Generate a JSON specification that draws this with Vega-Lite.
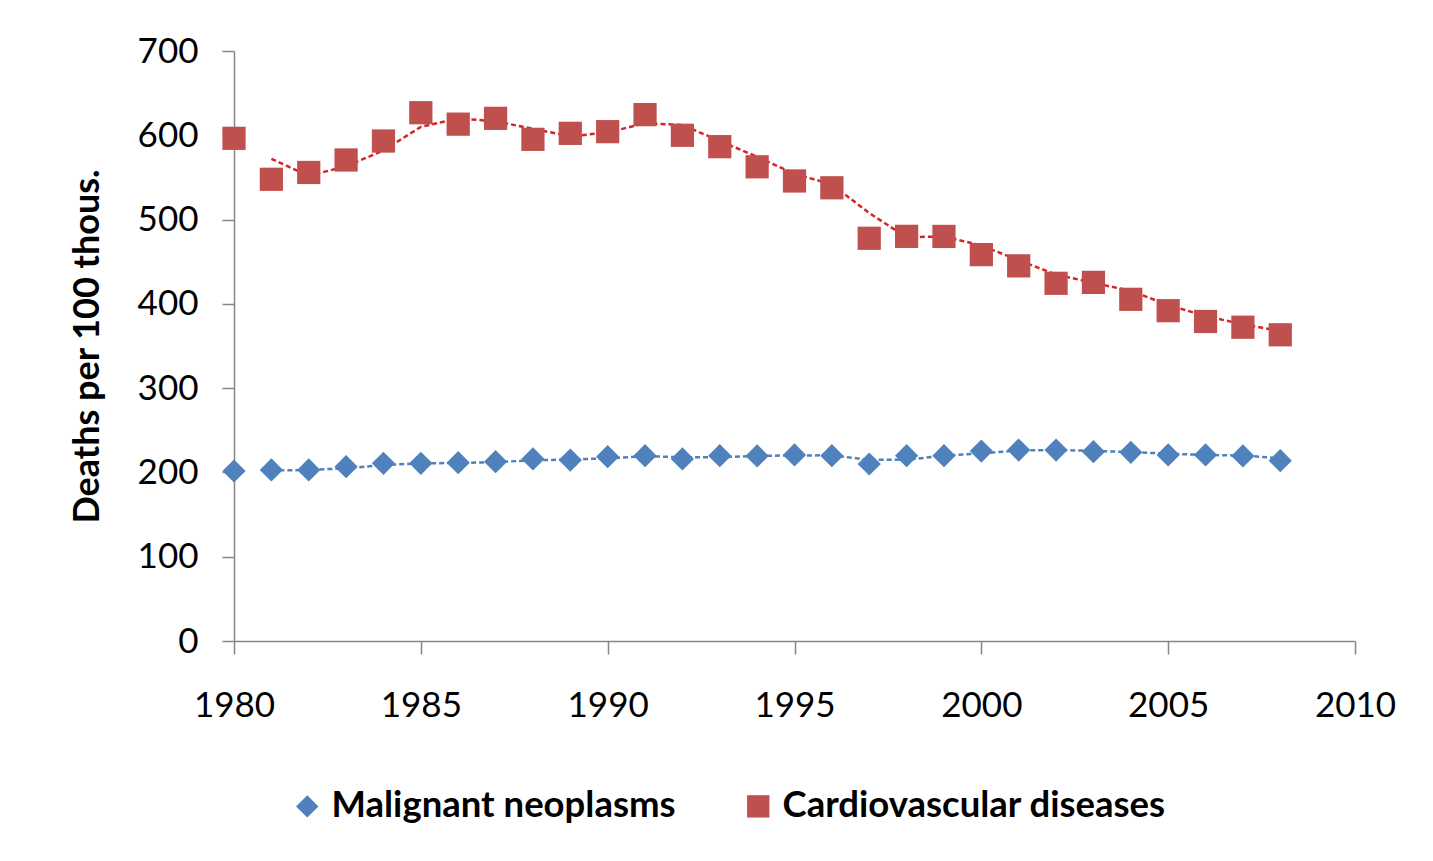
{
  "$schema": "https://vega.github.io/schema/vega-lite/v6.json",
  "autosize": "none",
  "width": 1121,
  "height": 590,
  "padding": {"left": 234, "top": 51, "right": 78, "bottom": 220},
  "background": "white",
  "config": {
    "view": {"stroke": null},
    "font": "Lato",
    "axis": {
      "domainColor": "#868686",
      "domainWidth": 1.5,
      "tickColor": "#868686",
      "tickWidth": 1.5,
      "grid": false,
      "labelFont": "Lato",
      "labelFontSize": 35,
      "labelColor": "#000000",
      "titleFont": "Lato",
      "titleColor": "#000000"
    },
    "legend": {
      "orient": "none",
      "legendX": 55,
      "legendY": 737,
      "direction": "horizontal",
      "labelFont": "Lato",
      "labelFontSize": 36.5,
      "labelFontWeight": "bold",
      "labelColor": "#000000",
      "labelOffset": 6,
      "columnPadding": 64,
      "symbolSize": 500,
      "symbolOpacity": 1,
      "labelLimit": 600
    }
  },
  "data": {
    "values": [
      {"year": 1980, "series": "Malignant neoplasms", "value": 201.7},
      {"year": 1981, "series": "Malignant neoplasms", "value": 202.9},
      {"year": 1982, "series": "Malignant neoplasms", "value": 203.0},
      {"year": 1983, "series": "Malignant neoplasms", "value": 206.8},
      {"year": 1984, "series": "Malignant neoplasms", "value": 210.8},
      {"year": 1985, "series": "Malignant neoplasms", "value": 210.8},
      {"year": 1986, "series": "Malignant neoplasms", "value": 211.6},
      {"year": 1987, "series": "Malignant neoplasms", "value": 212.8},
      {"year": 1988, "series": "Malignant neoplasms", "value": 216.0},
      {"year": 1989, "series": "Malignant neoplasms", "value": 214.7},
      {"year": 1990, "series": "Malignant neoplasms", "value": 218.7},
      {"year": 1991, "series": "Malignant neoplasms", "value": 219.9},
      {"year": 1992, "series": "Malignant neoplasms", "value": 216.0},
      {"year": 1993, "series": "Malignant neoplasms", "value": 219.9},
      {"year": 1994, "series": "Malignant neoplasms", "value": 219.5},
      {"year": 1995, "series": "Malignant neoplasms", "value": 220.7},
      {"year": 1996, "series": "Malignant neoplasms", "value": 219.9},
      {"year": 1997, "series": "Malignant neoplasms", "value": 210.0},
      {"year": 1998, "series": "Malignant neoplasms", "value": 219.9},
      {"year": 1999, "series": "Malignant neoplasms", "value": 219.9},
      {"year": 2000, "series": "Malignant neoplasms", "value": 225.4},
      {"year": 2001, "series": "Malignant neoplasms", "value": 226.6},
      {"year": 2002, "series": "Malignant neoplasms", "value": 226.6},
      {"year": 2003, "series": "Malignant neoplasms", "value": 224.6},
      {"year": 2004, "series": "Malignant neoplasms", "value": 223.8},
      {"year": 2005, "series": "Malignant neoplasms", "value": 220.7},
      {"year": 2006, "series": "Malignant neoplasms", "value": 220.7},
      {"year": 2007, "series": "Malignant neoplasms", "value": 219.5},
      {"year": 2008, "series": "Malignant neoplasms", "value": 213.9},
      {"year": 1980, "series": "Cardiovascular diseases", "value": 596.4},
      {"year": 1981, "series": "Cardiovascular diseases", "value": 547.8},
      {"year": 1982, "series": "Cardiovascular diseases", "value": 555.9},
      {"year": 1983, "series": "Cardiovascular diseases", "value": 570.7},
      {"year": 1984, "series": "Cardiovascular diseases", "value": 593.2},
      {"year": 1985, "series": "Cardiovascular diseases", "value": 626.8},
      {"year": 1986, "series": "Cardiovascular diseases", "value": 613.2},
      {"year": 1987, "series": "Cardiovascular diseases", "value": 620.1},
      {"year": 1988, "series": "Cardiovascular diseases", "value": 595.2},
      {"year": 1989, "series": "Cardiovascular diseases", "value": 602.3},
      {"year": 1990, "series": "Cardiovascular diseases", "value": 604.3},
      {"year": 1991, "series": "Cardiovascular diseases", "value": 624.5},
      {"year": 1992, "series": "Cardiovascular diseases", "value": 600.0},
      {"year": 1993, "series": "Cardiovascular diseases", "value": 586.5},
      {"year": 1994, "series": "Cardiovascular diseases", "value": 562.6},
      {"year": 1995, "series": "Cardiovascular diseases", "value": 545.8},
      {"year": 1996, "series": "Cardiovascular diseases", "value": 537.7},
      {"year": 1997, "series": "Cardiovascular diseases", "value": 477.8},
      {"year": 1998, "series": "Cardiovascular diseases", "value": 480.1},
      {"year": 1999, "series": "Cardiovascular diseases", "value": 480.0},
      {"year": 2000, "series": "Cardiovascular diseases", "value": 458.4},
      {"year": 2001, "series": "Cardiovascular diseases", "value": 445.1},
      {"year": 2002, "series": "Cardiovascular diseases", "value": 424.4},
      {"year": 2003, "series": "Cardiovascular diseases", "value": 425.5},
      {"year": 2004, "series": "Cardiovascular diseases", "value": 405.4},
      {"year": 2005, "series": "Cardiovascular diseases", "value": 391.9},
      {"year": 2006, "series": "Cardiovascular diseases", "value": 379.1},
      {"year": 2007, "series": "Cardiovascular diseases", "value": 372.3},
      {"year": 2008, "series": "Cardiovascular diseases", "value": 363.3}
    ]
  },
  "encoding": {
    "x": {
      "field": "year",
      "type": "quantitative",
      "scale": {"domain": [1980, 2010], "nice": false, "zero": false},
      "axis": {
        "title": null,
        "values": [1980, 1985, 1990, 1995, 2000, 2005, 2010],
        "format": "d",
        "tickSize": 13,
        "labelPadding": 34,
        "labelFlush": false
      }
    },
    "y": {
      "field": "value",
      "type": "quantitative",
      "scale": {"domain": [0, 700], "nice": false},
      "axis": {
        "title": "Deaths per 100 thous.",
        "titleFontSize": 36,
        "titleFontWeight": "bold",
        "titlePadding": 31,
        "values": [0, 100, 200, 300, 400, 500, 600, 700],
        "tickSize": 12,
        "labelPadding": 24
      }
    }
  },
  "layer": [
    {
      "transform": [
        {"filter": "datum.series === 'Malignant neoplasms'"},
        {
          "window": [
            {"op": "mean", "field": "value", "as": "ma"},
            {"op": "row_number", "as": "rn"}
          ],
          "frame": [-1, 0],
          "sort": [{"field": "year", "order": "ascending"}]
        },
        {"filter": "datum.rn > 1"}
      ],
      "mark": {"type": "line", "strokeWidth": 2.5, "strokeDash": [5, 3], "color": "#4F81BD"},
      "encoding": {
        "y": {"field": "ma", "type": "quantitative"}
      }
    },
    {
      "transform": [
        {"filter": "datum.series === 'Cardiovascular diseases'"},
        {
          "window": [
            {"op": "mean", "field": "value", "as": "ma"},
            {"op": "row_number", "as": "rn"}
          ],
          "frame": [-1, 0],
          "sort": [{"field": "year", "order": "ascending"}]
        },
        {"filter": "datum.rn > 1"}
      ],
      "mark": {"type": "line", "strokeWidth": 2.5, "strokeDash": [5, 3], "color": "#D42424"},
      "encoding": {
        "y": {"field": "ma", "type": "quantitative"}
      }
    },
    {
      "mark": {"type": "point", "filled": true, "size": 540, "opacity": 1},
      "encoding": {
        "color": {
          "field": "series",
          "type": "nominal",
          "scale": {
            "domain": ["Malignant neoplasms", "Cardiovascular diseases"],
            "range": ["#4F81BD", "#C0504D"]
          },
          "title": null
        },
        "shape": {
          "field": "series",
          "type": "nominal",
          "scale": {
            "domain": ["Malignant neoplasms", "Cardiovascular diseases"],
            "range": ["diamond", "square"]
          },
          "title": null
        }
      }
    }
  ]
}
